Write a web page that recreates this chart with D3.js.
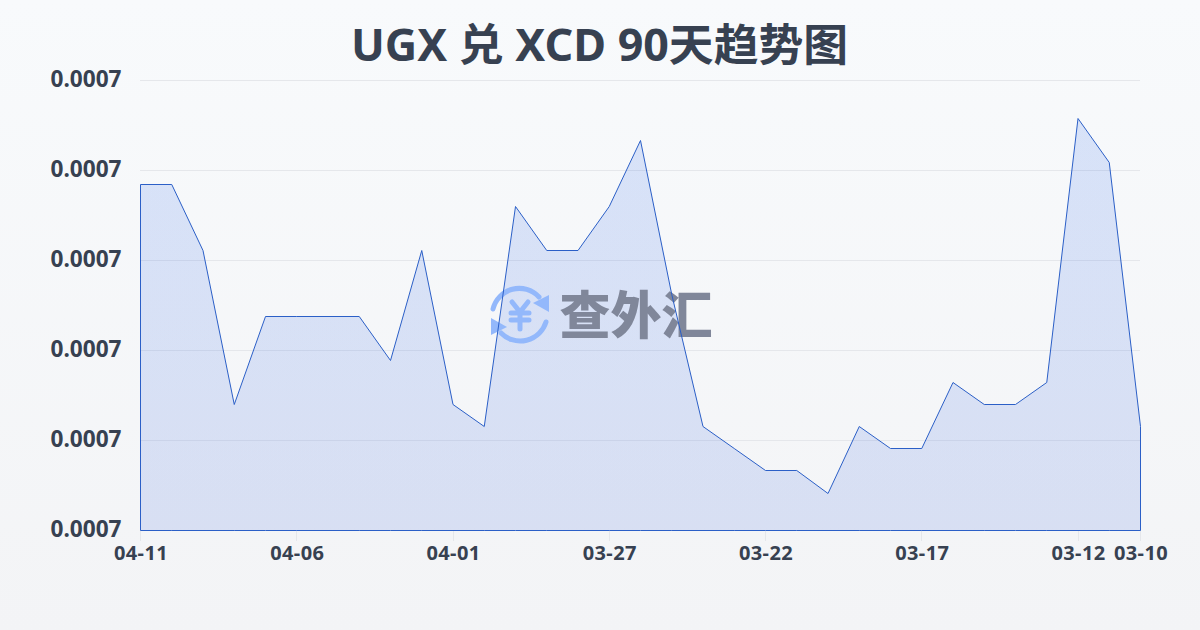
<!DOCTYPE html>
<html><head><meta charset="utf-8">
<script src="https://cdn.jsdelivr.net/npm/d3@7/dist/d3.min.js"></script>
<style>html,body{margin:0;padding:0;background:#f8fafc}svg{display:block}</style>
</head><body><svg id="c" width="1200" height="630"></svg>
<script>
const titleText = "UGX 兑 XCD 90天趋势图";
const watermarkText = "查外汇";
const categories = ["04-11","04-10","04-09","04-08","04-07","04-06","04-05","04-04","04-03","04-02","04-01","03-31","03-30","03-29","03-28","03-27","03-26","03-25","03-24","03-23","03-22","03-21","03-20","03-19","03-18","03-17","03-16","03-15","03-14","03-13","03-12","03-11","03-10"];
const rates = [0.00070346,0.00070346,0.0007028,0.00070126,0.00070214,0.00070214,0.00070214,0.00070214,0.0007017,0.0007028,0.00070126,0.00070104,0.00070324,0.0007028,0.0007028,0.00070324,0.0007039,0.00070236,0.00070104,0.00070082,0.0007006,0.0007006,0.00070037,0.00070104,0.00070082,0.00070082,0.00070148,0.00070126,0.00070126,0.00070148,0.00070412,0.00070368,0.00070104];
const xTickLabels = ["04-11","04-06","04-01","03-27","03-22","03-17","03-12","03-10"];
const yTicks = [0.0007,0.0007009,0.0007018,0.0007027,0.0007036,0.0007045];

const svg = d3.select("#c");
const defs = svg.append("defs");
const bg = defs.append("linearGradient").attr("id","bg").attr("x1",0).attr("y1",0).attr("x2",0).attr("y2",1);
bg.append("stop").attr("offset",0).attr("stop-color","#f8fafc");
bg.append("stop").attr("offset",1).attr("stop-color","#f3f4f6");
const ag = defs.append("linearGradient").attr("id","ag").attr("gradientUnits","userSpaceOnUse").attr("x1",0).attr("y1",118).attr("x2",0).attr("y2",530);
ag.append("stop").attr("offset",0).attr("stop-color","#2563eb").attr("stop-opacity",0.15);
ag.append("stop").attr("offset",1).attr("stop-color","#1d4ed8").attr("stop-opacity",0.13);
svg.append("rect").attr("width",1200).attr("height",630).attr("fill","url(#bg)");

const font = "'Noto Sans','Noto Sans CJK SC',sans-serif";
const ink = "#374151";
svg.append("text").attr("x",599.5).attr("y",61).attr("text-anchor","middle")
  .attr("font-family",font).attr("font-weight",700).attr("font-size",44.8).attr("fill",ink).text(titleText);

const x = d3.scalePoint().domain(categories).range([140.5,1140.5]);
const y = d3.scaleLinear().domain([0.0007,0.0007045]).range([530.5,80.5]);

svg.append("g").selectAll("line").data(yTicks).join("line")
  .attr("x1",140).attr("x2",1140).attr("y1",d=>y(d)).attr("y2",d=>y(d))
  .attr("stroke","#e5e7eb").attr("stroke-width",1);

svg.append("g").selectAll("text").data(yTicks).join("text")
  .attr("x",121.5).attr("y",d=>y(d)+6).attr("text-anchor","end")
  .attr("font-family",font).attr("font-weight",700).attr("font-size",22.6).attr("fill",ink)
  .text(d=>d3.format(".4f")(d));

const xg = svg.append("g");
xg.selectAll("line").data(xTickLabels).join("line")
  .attr("x1",d=>Math.floor(x(d))+0.5).attr("x2",d=>Math.floor(x(d))+0.5).attr("y1",530).attr("y2",541)
  .attr("stroke","#e5e7eb");
xg.selectAll("text").data(xTickLabels).join("text")
  .attr("x",d=>x(d)+0.5).attr("y",560).attr("text-anchor","middle")
  .attr("font-family",font).attr("font-weight",700).attr("font-size",20).attr("letter-spacing",0.4).attr("fill",ink).text(d=>d);

const area = d3.area().x((d,i)=>x(categories[i])).y0(530.5).y1(d=>y(d));
svg.append("path").datum(rates).attr("d",area).attr("fill","url(#ag)").attr("stroke","none");

const wm = svg.append("g");
const blue = "#93b8fb";
wm.append("path").attr("d","M 493 309 A 27 27 0 0 1 539 297").attr("fill","none").attr("stroke",blue).attr("stroke-width",5).attr("stroke-linecap","round");
wm.append("path").attr("d","M 546 322 A 27 27 0 0 1 501 333").attr("fill","none").attr("stroke",blue).attr("stroke-width",5).attr("stroke-linecap","round");
wm.append("path").attr("d","M 549 295 L 549 312 L 533 303 Z").attr("fill",blue);
wm.append("path").attr("d","M 491 318 L 491 335 L 507 327 Z").attr("fill",blue);
wm.append("path").attr("d","M 512 302 L 520 312 L 528 302 M 520 312 L 520 329 M 511 313 L 529 313 M 511 320 L 529 320").attr("fill","none").attr("stroke",blue).attr("stroke-width",5).attr("stroke-linecap","round");
wm.append("text").attr("x",636).attr("y",334).attr("text-anchor","middle")
  .attr("font-family","'Noto Sans CJK SC',sans-serif").attr("font-weight",900).attr("font-size",51).attr("fill","#80879a").text(watermarkText);

svg.append("path").datum(rates).attr("d",area).attr("fill","none").attr("stroke","#2b5fc7").attr("stroke-width",1);
</script></body></html>
